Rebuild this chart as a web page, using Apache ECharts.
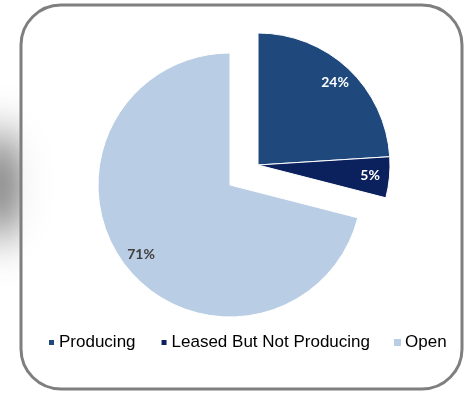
<!DOCTYPE html>
<html>
<head>
<meta charset="utf-8">
<script src="https://cdn.jsdelivr.net/npm/echarts@6/dist/echarts.min.js"></script>
<style>html,body{margin:0;padding:0;background:#fff}#c{width:468px;height:393px}</style>
</head>
<body>
<div id="c"></div>
<script>
const categories = ['Producing', 'Leased But Not Producing', 'Open'];
const values = [24, 5, 71];
const explodedFlags = [true, true, false];
const colors = ['#1F497D', '#0B215E', '#B9CDE5'];
const labelColors = ['#FFFFFF', '#FFFFFF', '#404040'];

const R = 132;
const total = values.reduce((a, b) => a + b, 0);
const labelFrac = 0.83;
function labelOffset(i) {
  let cum = 0;
  for (let k = 0; k < i; k++) cum += values[k];
  const mid = (90 - 360 * (cum + values[i] / 2) / total) * Math.PI / 180;
  const d = (labelFrac - 0.5) * R;
  return [Math.cos(mid) * d, -Math.sin(mid) * d];
}

function buildData(explodedGroup) {
  return categories.map((name, i) => {
    const visible = explodedFlags[i] === explodedGroup;
    return {
      name: name,
      value: values[i],
      itemStyle: visible
        ? { color: colors[i], borderColor: '#ffffff', borderWidth: 1 }
        : { color: 'rgba(0,0,0,0)', borderWidth: 0 },
      label: visible
        ? { show: true, position: 'inside', offset: labelOffset(i), color: labelColors[i],
            formatter: values[i] + '%', fontFamily: 'Lato', fontSize: 14, fontWeight: 'bold' }
        : { show: false }
    };
  });
}

const chart = echarts.init(document.getElementById('c'), null, { renderer: 'canvas' });
chart.setOption({
  animation: false,
  backgroundColor: '#ffffff',
  graphic: [
    {
      type: 'ellipse', z: 0, silent: true,
      shape: { cx: -300, cy: 185, rx: 18, ry: 55 },
      style: { fill: '#777', shadowBlur: 45, shadowColor: 'rgba(0,0,0,0.75)', shadowOffsetX: 300 }
    },
    {
      type: 'rect', z: 1, silent: true,
      shape: { x: 21, y: 5, width: 441, height: 384, r: 40 },
      style: { fill: 'rgba(255,255,255,0.88)', stroke: '#7F7F7F', lineWidth: 3 }
    }
  ],
  legend: {
    left: 42, top: 329,
    icon: 'rect', itemWidth: 7, itemHeight: 7, itemGap: 24,
    selectedMode: false,
    textStyle: { fontFamily: 'Liberation Sans', fontSize: 17, color: '#000', padding: [0, 0, 0, -1] },
    data: categories.map((n, i) => ({ name: n, itemStyle: { color: colors[i] } }))
  },
  series: [
    {
      type: 'pie', center: [258, 165], radius: R, startAngle: 90, clockwise: true,
      avoidLabelOverlap: false, silent: true, emphasis: { disabled: true },
      labelLine: { show: false },
      data: buildData(true)
    },
    {
      type: 'pie', center: [230, 185], radius: R, startAngle: 90, clockwise: true,
      avoidLabelOverlap: false, silent: true, emphasis: { disabled: true },
      labelLine: { show: false },
      data: buildData(false)
    }
  ]
});
</script>
</body>
</html>
